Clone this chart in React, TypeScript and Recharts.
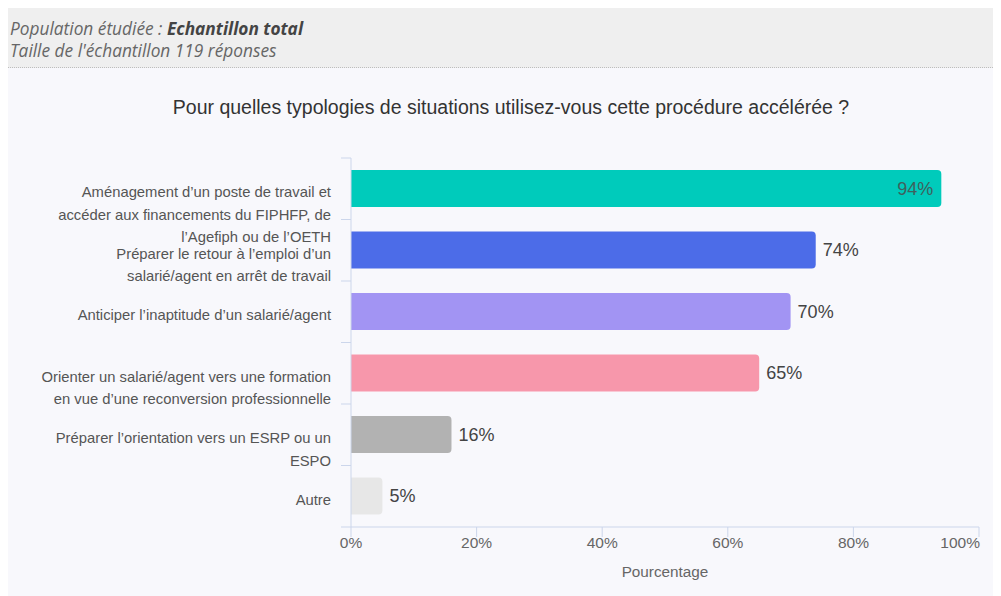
import React from 'react';
import { BarChart, Bar, XAxis, YAxis, Cell, LabelList } from 'recharts';

const categories = [
  "Aménagement d’un poste de travail et\naccéder aux financements du FIPHFP, de\nl’Agefiph ou de l’OETH",
  "Préparer le retour à l’emploi d’un\nsalarié/agent en arrêt de travail",
  "Anticiper l’inaptitude d’un salarié/agent",
  "Orienter un salarié/agent vers une formation\nen vue d’une reconversion professionnelle",
  "Préparer l’orientation vers un ESRP ou un\nESPO",
  "Autre",
];
const values = [94, 74, 70, 65, 16, 5];
const colors = ['#00cbbb', '#4c6ce8', '#a294f3', '#f797ab', '#b2b2b2', '#e7e7e7'];
const xTicks = [0, 20, 40, 60, 80, 100];

const title = "Pour quelles typologies de situations utilisez-vous cette procédure accélérée ?";
const xTitle = "Pourcentage";

const data = categories.map((c, i) => ({ name: c, value: values[i] }));

const AXIS = '#ccd6eb';
const FONT = '"Liberation Sans", Arial, sans-serif';

const YTick = (props: any) => {
  const { x, y, payload, index } = props;
  const lines = String(payload.value).split('\n');
  const off = payload.offset ?? 0;
  const ax = x + 20;
  return (
    <g>
      <line x1={ax - 10} x2={ax} y1={y - off} y2={y - off} stroke={AXIS} strokeWidth={1} />
      {index === categories.length - 1 && (
        <line x1={ax - 10} x2={ax} y1={y + off} y2={y + off} stroke={AXIS} strokeWidth={1} />
      )}
      <text x={x} y={y + 8.5} textAnchor="end" fill="#555" fontSize={14.8} fontFamily={FONT}>
        {lines.map((l, i) => (
          <tspan key={i} x={x} dy={i === 0 ? 0 : 22.5}>{l}</tspan>
        ))}
      </text>
    </g>
  );
};

const XTick = (props: any) => {
  const { x, y, payload, index } = props;
  const last = index === xTicks.length - 1;
  return (
    <text x={last ? x + 1 : x} y={y} dy={11} textAnchor={last ? 'end' : 'middle'} fill="#666" fontSize={15.5} fontFamily={FONT}>
      {payload.value}%
    </text>
  );
};

const ValueLabel = (props: any) => {
  const { x, y, width, height, value } = props;
  const inside = value > 90;
  return (
    <text
      x={inside ? x + width - 8 : x + width + 7}
      y={y + height / 2}
      dy={6}
      textAnchor={inside ? 'end' : 'start'}
      fill={inside ? '#3f615d' : '#444'}
      fontSize={18}
      fontFamily={FONT}
    >
      {value}%
    </text>
  );
};

export default function App() {
  return (
    <div style={{ width: 993, fontFamily: FONT }}>
      <div
        style={{
          height: 60,
          boxSizing: 'border-box',
          background: '#efefef',
          borderBottom: '1px dotted #bdbdbd',
          padding: '10px 0 0 2px',
          fontFamily: '"Open Sans", sans-serif',
          fontStyle: 'italic',
          fontSize: 17.3,
          lineHeight: '22px',
          color: '#666',
        }}
      >
        <div>
          Population étudiée : <b style={{ color: '#444' }}>Echantillon total</b>
        </div>
        <div>Taille de l'échantillon 119 réponses</div>
      </div>
      <div style={{ position: 'relative', width: 993, height: 528, background: '#f8f8fc' }}>
        <div
          style={{
            position: 'absolute',
            left: 0,
            top: 28,
            width: 1006,
            textAlign: 'center',
            fontSize: 19.5,
            color: '#333',
            fontFamily: FONT,
            whiteSpace: 'nowrap',
          }}
        >
          {title}
        </div>
        <BarChart
          width={993}
          height={528}
          data={data}
          layout="vertical"
          margin={{ top: 90, right: 22, left: 0, bottom: 0 }}
          barSize={37}
        >
          <XAxis
            type="number"
            domain={[0, 100]}
            ticks={xTicks}
            interval={0}
            height={69}
            axisLine={{ stroke: AXIS }}
            tickLine={{ stroke: AXIS }}
            tickSize={10}
            tickMargin={0}
            tick={<XTick />}
            label={{ value: xTitle, position: 'insideBottom', offset: 19, fill: '#666', fontSize: 15.3, fontFamily: FONT }}
          />
          <YAxis
            type="category"
            dataKey="name"
            width={343}
            axisLine={{ stroke: AXIS }}
            tickLine={false}
            tickSize={0}
            tickMargin={20}
            interval={0}
            tick={<YTick />}
          />
          <Bar dataKey="value" isAnimationActive={false} radius={[0, 4, 4, 0]}>
            {data.map((d, i) => (
              <Cell key={i} fill={colors[i]} />
            ))}
            <LabelList dataKey="value" content={<ValueLabel />} />
          </Bar>
        </BarChart>
      </div>
    </div>
  );
}
